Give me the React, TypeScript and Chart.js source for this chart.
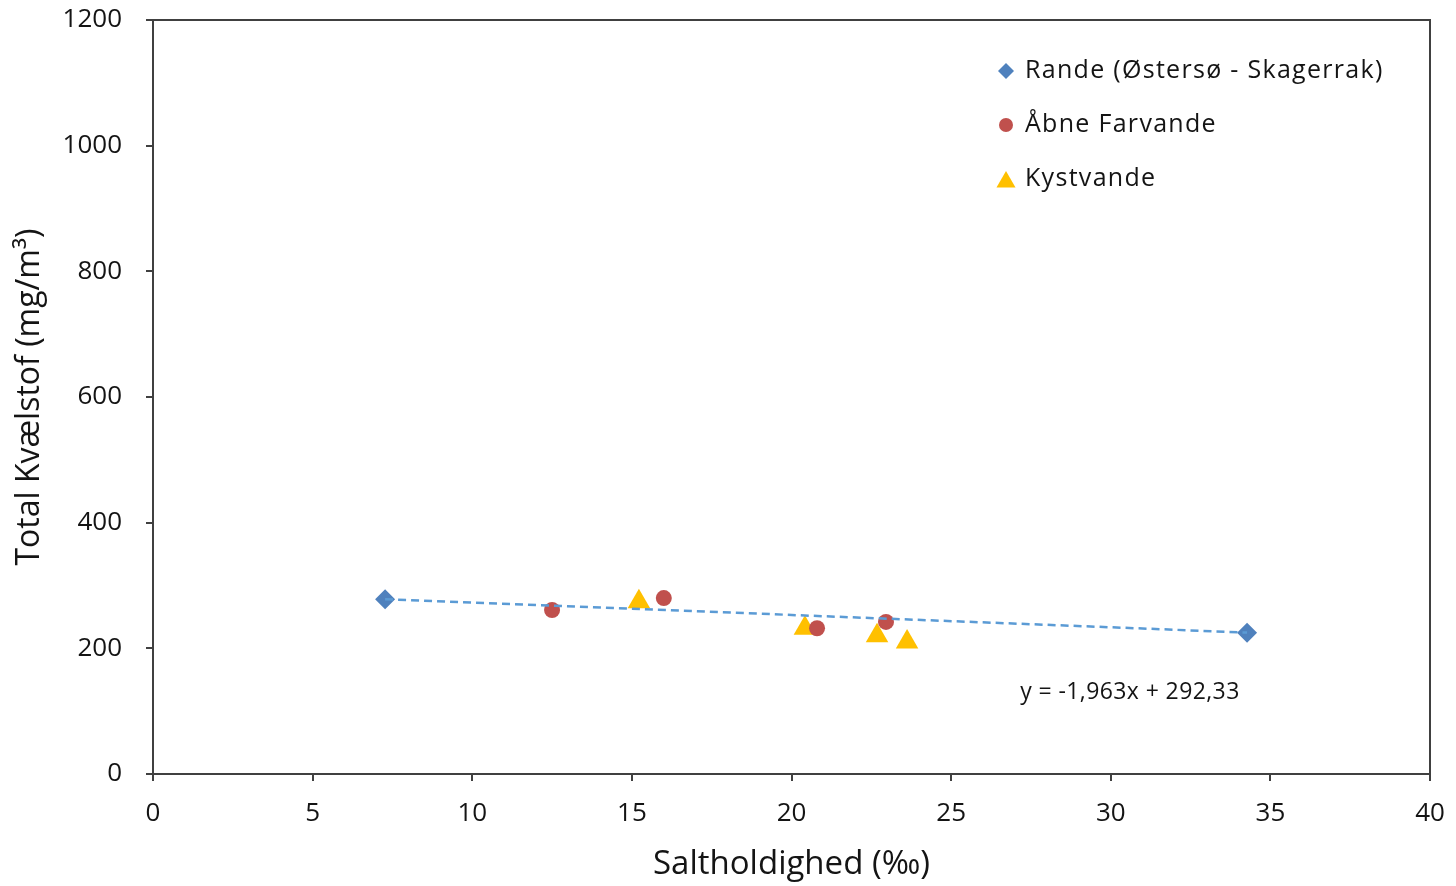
import React, { useEffect, useRef } from 'react';
import { Chart, registerables } from 'chart.js';

Chart.register(...registerables);

// ---- Data ----
const seriesNames = ['Rande (Østersø - Skagerrak)', 'Åbne Farvande', 'Kystvande'];
const randeX = [7.27, 34.27];
const randeY = [278, 225];
const aabneX = [12.5, 16.0, 20.8, 22.96];
const aabneY = [261, 280, 232, 242];
const kystX = [15.22, 20.42, 22.68, 23.62];
const kystY = [274, 232, 220, 210];
const trendX = [7.27, 34.27];
const trendY = [278.1, 225.1];
const xTicks = [0, 5, 10, 15, 20, 25, 30, 35, 40];
const yTicks = [0, 200, 400, 600, 800, 1000, 1200];
const equationText = 'y = -1,963x + 292,33';
const xTitle = 'Saltholdighed (‰)';
const yTitle = 'Total Kvælstof (mg/m³)';

const FONT = '"Open Sans", Lato, sans-serif';
const TEXT = '#141414';
const AXIS = '#404040';
const BLUE = '#4f81bd';
const RED = '#c0504d';
const GOLD = '#ffc000';
const TREND = '#5b9bd5';

const toPts = (xs: number[], ys: number[]) => xs.map((x, i) => ({ x, y: ys[i] }));

function drawMarker(ctx: CanvasRenderingContext2D, style: string, x: number, y: number, r: number, color: string) {
  ctx.save();
  ctx.fillStyle = color;
  ctx.beginPath();
  if (style === 'rectRot') {
    ctx.moveTo(x, y - r);
    ctx.lineTo(x + r, y);
    ctx.lineTo(x, y + r);
    ctx.lineTo(x - r, y);
    ctx.closePath();
  } else if (style === 'circle') {
    ctx.arc(x, y, r, 0, Math.PI * 2);
  } else {
    const s = Math.sin(Math.PI / 3) * r;
    ctx.moveTo(x, y - r);
    ctx.lineTo(x + s, y + r / 2);
    ctx.lineTo(x - s, y + r / 2);
    ctx.closePath();
  }
  ctx.fill();
  ctx.restore();
}

const overlayPlugin = {
  id: 'overlay',
  afterDatasetsDraw(chart: any) {
    const { ctx, chartArea } = chart;
    ctx.save();
    ctx.strokeStyle = AXIS;
    ctx.lineWidth = 2;
    ctx.strokeRect(chartArea.left, chartArea.top, chartArea.right - chartArea.left, chartArea.bottom - chartArea.top);
    ctx.restore();

    const styles = ['rectRot', 'circle', 'triangle'];
    const colors = [BLUE, RED, GOLD];
    const sizes = [8, 7, 11];
    const rows = [71, 125, 179];
    ctx.save();
    ctx.font = `25px ${FONT}`;
    ctx.fillStyle = TEXT;
    ctx.textBaseline = 'middle';
    ctx.textAlign = 'left';
    try { (ctx as any).letterSpacing = '1.3px'; } catch (e) {}
    seriesNames.forEach((name, i) => {
      const my = styles[i] === 'triangle' ? rows[i] + 3 : rows[i];
      drawMarker(ctx, styles[i], 1006, my, sizes[i], colors[i]);
      ctx.fillText(name, 1025, rows[i]);
    });
    try { (ctx as any).letterSpacing = '0.4px'; } catch (e) {}
    ctx.font = `23px ${FONT}`;
    ctx.textAlign = 'center';
    ctx.fillText(equationText, 1130, 692);
    try { (ctx as any).letterSpacing = '0px'; } catch (e) {}
    ctx.restore();
  },
};

export default function App() {
  const ref = useRef<HTMLCanvasElement | null>(null);
  useEffect(() => {
    if (!ref.current) return;
    const chart = new Chart(ref.current, {
      type: 'scatter',
      data: {
        datasets: [
          {
            label: 'trend',
            type: 'line',
            data: toPts(trendX, trendY),
            borderColor: TREND,
            borderWidth: 2.5,
            borderDash: [8, 5],
            pointRadius: 0,
            showLine: true,
            fill: false,
            order: 0,
          } as any,
          {
            label: seriesNames[0],
            data: toPts(randeX, randeY),
            pointStyle: 'rectRot',
            pointRadius: 10,
            backgroundColor: BLUE,
            borderColor: BLUE,
            borderWidth: 0,
            order: 1,
          },
          {
            label: seriesNames[1],
            data: toPts(aabneX, aabneY),
            pointStyle: 'circle',
            pointRadius: 8,
            backgroundColor: RED,
            borderColor: RED,
            borderWidth: 0,
            order: 1,
          },
          {
            label: seriesNames[2],
            data: toPts(kystX, kystY),
            pointStyle: 'triangle',
            pointRadius: 13,
            backgroundColor: GOLD,
            borderColor: GOLD,
            borderWidth: 0,
            order: 1,
          },
        ],
      },
      options: {
        responsive: false,
        animation: false,
        devicePixelRatio: 1,
        layout: { padding: { top: 20, right: 26, left: 0, bottom: 0 } },
        plugins: { legend: { display: false }, tooltip: { enabled: false } },
        scales: {
          x: {
            type: 'linear',
            min: 0,
            max: 40,
            afterBuildTicks: (s: any) => { s.ticks = xTicks.map((v) => ({ value: v })); },
            afterFit: (s: any) => { s.height = 112; s.paddingLeft = 0; s.paddingRight = 0; },
            grid: { drawOnChartArea: false, drawTicks: true, tickLength: 7, color: AXIS, lineWidth: 2 },
            border: { display: true, color: AXIS, width: 2 },
            ticks: { color: TEXT, font: { family: FONT, size: 26 }, padding: 17, maxRotation: 0, callback: (v: any) => String(v) },
            title: { display: true, text: xTitle, color: TEXT, font: { family: FONT, size: 33 }, padding: { top: 0, bottom: 2 } },
          },
          y: {
            type: 'linear',
            min: 0,
            max: 1200,
            afterBuildTicks: (s: any) => { s.ticks = yTicks.map((v) => ({ value: v })); },
            afterFit: (s: any) => { s.width = 153; s.paddingTop = 0; s.paddingBottom = 0; },
            grid: { drawOnChartArea: false, drawTicks: true, tickLength: 7, color: AXIS, lineWidth: 2 },
            border: { display: true, color: AXIS, width: 2 },
            ticks: { color: TEXT, font: { family: FONT, size: 26 }, padding: 24, callback: (v: any) => String(v) },
            title: { display: true, text: yTitle, color: TEXT, font: { family: FONT, size: 32 }, padding: { top: 11, bottom: 0 } },
          },
        },
      },
      plugins: [overlayPlugin],
    });
    return () => chart.destroy();
  }, []);
  return (
    <div style={{ position: 'fixed', left: 0, top: 0, width: 1456, height: 886, background: '#fff' }}>
      <canvas ref={ref} width={1456} height={886} style={{ width: 1456, height: 886, display: 'block' }} />
    </div>
  );
}
